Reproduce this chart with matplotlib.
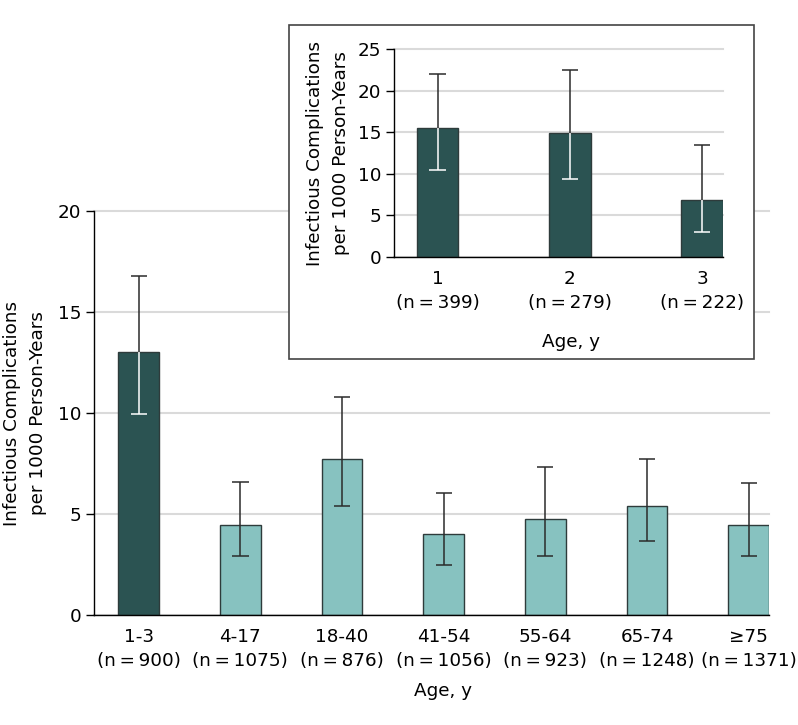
import numpy as np
import matplotlib
matplotlib.use("Agg")
import matplotlib.pyplot as plt
from matplotlib.patches import Rectangle

# main chart data
ages = ['1-3', '4-17', '18-40', '41-54', '55-64', '65-74', '≥75']
n_age = [900, 1075, 876, 1056, 923, 1248, 1371]
rate = [13.03, 4.46, 7.72, 4.00, 4.77, 5.40, 4.47]
ci_lo = [9.95, 2.92, 5.38, 2.48, 2.92, 3.65, 2.92]
ci_hi = [16.77, 6.57, 10.79, 6.06, 7.34, 7.71, 6.55]

# inset data (ages 1, 2, 3)
ins_ages = ['1', '2', '3']
ins_n = [399, 279, 222]
ins_rate = [15.49, 14.88, 6.82]
ins_lo = [10.43, 9.35, 3.05]
ins_hi = [21.94, 22.42, 13.44]

dark = '#2b5352'
light = '#87c2c0'
edge = '#2e3b3b'
grid_c = '#dadada'
fs = 13.2
thin = '\u2009'

plt.rcParams['font.family'] = 'DejaVu Sans'


def bar_panel(ax, labels, ns, vals, lo, hi, colors, width, cap):
    x = np.arange(len(vals))
    vals = np.array(vals)
    lo = np.array(lo)
    hi = np.array(hi)
    ax.bar(x, vals, width=width, color=colors, edgecolor=edge, linewidth=1.0, zorder=2)
    inner = ['white' if c == dark else '#2b2b2b' for c in colors]
    # part of the CI inside the bar
    ax.vlines(x, lo, vals, colors=inner, linewidth=1.1, zorder=3)
    ax.hlines(lo, x - cap / 2, x + cap / 2, colors=inner, linewidth=1.1, zorder=3)
    # part above the bar
    ax.vlines(x, vals, hi, colors='#2b2b2b', linewidth=1.1, zorder=3)
    ax.hlines(hi, x - cap / 2, x + cap / 2, colors='#2b2b2b', linewidth=1.1, zorder=3)
    ax.set_xticks(x)
    ax.set_xticklabels([f'{a}\n(n{thin}={thin}{n})' for a, n in zip(labels, ns)], fontsize=fs,
                       linespacing=1.45)
    ax.tick_params(axis='x', length=0, pad=9)
    ax.tick_params(axis='y', length=6, width=1, labelsize=fs, direction='out', pad=3)
    for s in ['top', 'right']:
        ax.spines[s].set_visible(False)
    ax.spines['left'].set_linewidth(1)
    ax.spines['bottom'].set_linewidth(1)
    ax.yaxis.grid(True, color=grid_c, linewidth=1.5, zorder=0, clip_on=False)
    ax.set_axisbelow(True)


fig = plt.figure(figsize=(7.98, 7.25), dpi=100)

ax = fig.add_axes([94 / 798, 1 - 615 / 725, (769 - 94) / 798, (615 - 211) / 725])
cols = [dark] + [light] * (len(ages) - 1)
bar_panel(ax, ages, n_age, rate, ci_lo, ci_hi, cols, 0.40, 0.16)
ax.set_xlim(-0.44, 6.2)
ax.set_ylim(0, 20)
ax.set_yticks([0, 5, 10, 15, 20])
ax.set_ylabel('Infectious Complications\nper 1000 Person-Years', fontsize=fs, labelpad=8,
              linespacing=1.55)
ax.set_xlabel('Age, y', fontsize=fs, labelpad=9)
ax.xaxis.label.set_x(0.517)

# inset frame
fig.patches.append(Rectangle((289 / 798, 1 - 359 / 725), 465 / 798, 334 / 725,
                             transform=fig.transFigure, facecolor='white',
                             edgecolor='#444444', linewidth=1.2, zorder=5))

ins = fig.add_axes([394 / 798, 1 - 257 / 725, (723 - 394) / 798, (257 - 49) / 725], zorder=6)
bar_panel(ins, ins_ages, ins_n, ins_rate, ins_lo, ins_hi, [dark] * 3, 0.314, 0.125)
ins.set_xlim(-0.33, 2.157)
ins.set_ylim(0, 25)
ins.set_yticks([0, 5, 10, 15, 20, 25])
ins.set_ylabel('Infectious Complications\nper 1000 Person-Years', fontsize=fs, labelpad=6,
               linespacing=1.55)
ins.set_xlabel('Age, y', fontsize=fs, labelpad=15)
ins.xaxis.label.set_x(0.538)
ins.patch.set_alpha(0)

fig.savefig('out.png', dpi=100, facecolor='white')
